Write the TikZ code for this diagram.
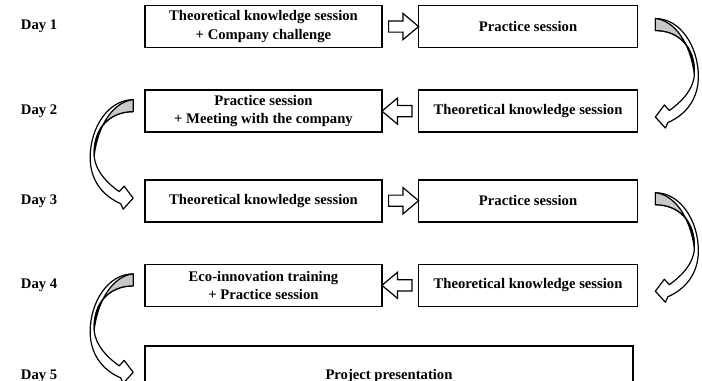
\documentclass[tikz,border=0pt]{standalone}
\usepackage{fontspec}
\setmainfont{Liberation Serif}
\usetikzlibrary{shapes.arrows, positioning, calc}
\definecolor{rgray}{HTML}{C8C8C8}
\tikzstyle{day} = [inner sep=0pt, font=\bfseries\fontsize{11}{14}\selectfont]
\tikzstyle{session} = [rectangle, draw, line width=1.2pt, minimum height=31.5pt, inner sep=0pt, text centered, font=\bfseries\fontsize{11}{14}\selectfont]
\tikzstyle{wide} = [session, minimum width=177.75pt]
\tikzstyle{narrow} = [session, minimum width=164.25pt]
\tikzstyle{fwd} = [single arrow, draw, fill=white, line width=0.9pt, minimum height=22.5pt, inner xsep=0pt, inner ysep=3.75pt, single arrow head extend=5.6pt, single arrow tip angle=80]
\tikzstyle{bwd} = [fwd, shape border rotate=180]
\tikzstyle{ribbon} = [draw, line width=0.9pt, line join=round]

% curved ribbon arrow, drawn in pixel units from the tail
\newcommand{\bendarrow}{%
  \filldraw[ribbon, fill=white] (17,-8) .. controls (42,-8) and (60,20) .. (60,50)
    .. controls (60,72) and (48,88) .. (29.5,96) -- (27,101.5) -- (17,90.5) -- (26,78.5) -- (31,84)
    .. controls (42,76) and (55,64) .. (56,48) .. controls (57,20) and (40,4) .. (17,4) -- cycle;
  \filldraw[ribbon, fill=rgray] (17,-8) .. controls (36,-6) and (52,16) .. (56,48)
    .. controls (57,20) and (40,4) .. (17,4) -- cycle;
}

\begin{document}
\begin{tikzpicture}[align=center]
  \useasboundingbox (0,0) rectangle (526.5pt,-285.75pt);
  \node (th1) [wide] at (197.6pt,-19.9pt) {Theoretical knowledge session\\+ Company challenge};
  \node (pr1) [narrow, right = 26.25pt of th1] {Practice session};
  \node (pr2) [wide, below = 30.75pt of th1] {Practice session\\+ Meeting with the company};
  \node (th2) [narrow, right = 26.25pt of pr2] {Theoretical knowledge session};
  \node (th3) [wide, below = 34.5pt of pr2] {Theoretical knowledge session};
  \node (pr3) [narrow, right = 26.25pt of th3] {Practice session};
  \node (eco4) [wide, below = 30.75pt of th3] {Eco-innovation training\\+ Practice session};
  \node (th4) [narrow, right = 26.25pt of eco4] {Theoretical knowledge session};
  \node (pres) [session, minimum width=366pt, minimum height=45pt, below = 28.5pt of eco4.south west, anchor=north west] {Project presentation};
  \node (d1) [day, left = 65pt of th1] {Day 1};
  \node (d2) [day, left = 65pt of pr2] {Day 2};
  \node (d3) [day, left = 65pt of th3] {Day 3};
  \node (d4) [day, left = 65pt of eco4] {Day 4};
  \node (d5) [day, left = 65pt of pres] {Day 5};
  \node (a1) [fwd] at ($(th1.east)!0.5!(pr1.west)$) {};
  \node (a2) [bwd] at ($(pr2.east)!0.5!(th2.west)$) {};
  \node (a3) [fwd] at ($(th3.east)!0.5!(pr3.west)$) {};
  \node (a4) [bwd] at ($(eco4.east)!0.5!(th4.west)$) {};
  \begin{scope}[shift={(pr1.east)}, x=0.75pt, y=-0.75pt]
    \bendarrow
  \end{scope}
  \begin{scope}[shift={(pr2.west)}, xshift=4.5pt, yshift=2.6pt, x=-0.75pt, y=-0.75pt]
    \bendarrow
  \end{scope}
  \begin{scope}[shift={(pr3.east)}, x=0.75pt, y=-0.75pt]
    \bendarrow
  \end{scope}
  \begin{scope}[shift={(eco4.west)}, xshift=4.5pt, yshift=2.6pt, x=-0.75pt, y=-0.75pt]
    \bendarrow
  \end{scope}
\end{tikzpicture}
\end{document}
